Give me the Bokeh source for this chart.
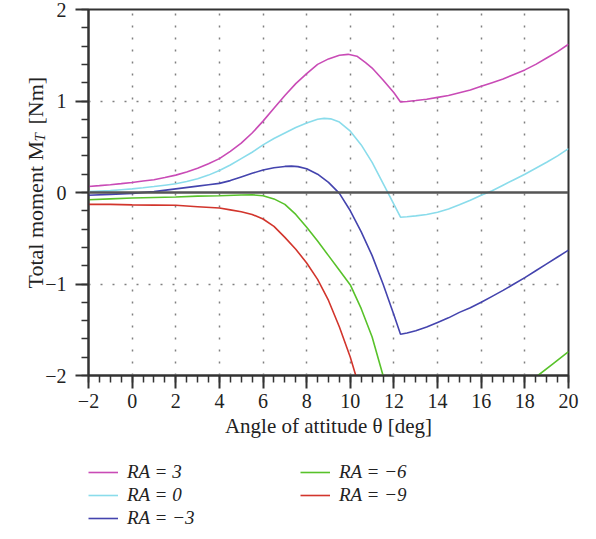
import math
from bokeh.plotting import figure
from bokeh.layouts import column
from bokeh.models import (Range1d, FixedTicker, Span, Legend, LegendItem, Label)
from bokeh.embed import file_html
from bokeh.resources import INLINE

# ---------------- data ----------------
ra3_x = [-2, -1.5, -1, -0.5, 0, 0.5, 1, 1.5, 2, 2.5, 3, 3.5, 4, 4.5, 5, 5.5, 6, 6.5, 7, 7.5, 8, 8.5, 9, 9.5,
         9.9, 10.3, 10.7, 11, 11.5, 12, 12.3, 12.6, 13, 13.5, 14, 14.5, 15, 15.5, 16, 16.5, 17, 17.5, 18,
         18.5, 19, 19.5, 20]
ra3_y = [0.066, 0.075, 0.085, 0.097, 0.11, 0.125, 0.14, 0.163, 0.19, 0.225, 0.265, 0.315, 0.37, 0.45, 0.54,
         0.65, 0.78, 0.92, 1.06, 1.19, 1.30, 1.40, 1.46, 1.50, 1.51, 1.49, 1.42, 1.36, 1.23, 1.09, 0.99,
         0.995, 1.005, 1.02, 1.04, 1.06, 1.09, 1.12, 1.16, 1.20, 1.24, 1.29, 1.34, 1.40, 1.47, 1.54, 1.62]

ra0_x = [-2, -1.5, -1, -0.5, 0, 0.5, 1, 1.5, 2, 2.5, 3, 3.5, 4, 4.5, 5, 5.5, 6, 6.5, 7, 7.5, 8, 8.5, 8.8,
         9.1, 9.5, 10, 10.5, 11, 11.5, 12, 12.3, 12.6, 13, 13.5, 14, 14.5, 15, 15.5, 16, 16.5, 17, 17.5,
         18, 18.5, 19, 19.5, 20]
ra0_y = [0.01, 0.015, 0.02, 0.03, 0.04, 0.052, 0.065, 0.08, 0.095, 0.12, 0.15, 0.19, 0.24, 0.30, 0.37,
         0.44, 0.52, 0.59, 0.65, 0.71, 0.76, 0.80, 0.81, 0.805, 0.77, 0.67, 0.52, 0.33, 0.10, -0.13, -0.27,
         -0.265, -0.255, -0.24, -0.215, -0.18, -0.135, -0.085, -0.03, 0.02, 0.08, 0.14, 0.20, 0.265, 0.33,
         0.40, 0.48]

ram3_x = [-2, -1, 0, 1, 2, 3, 3.5, 4, 4.5, 5, 5.5, 6, 6.5, 7, 7.3, 7.6, 8, 8.5, 9, 9.5, 10, 10.5, 11,
          11.5, 12, 12.3, 12.6, 13, 13.5, 14, 14.5, 15, 15.5, 16, 16.5, 17, 17.5, 18, 18.5, 19, 19.5, 20]
ram3_y = [-0.03, -0.02, -0.01, 0.01, 0.04, 0.07, 0.085, 0.10, 0.13, 0.17, 0.21, 0.245, 0.27, 0.285, 0.288,
          0.283, 0.26, 0.20, 0.11, -0.01, -0.20, -0.43, -0.69, -1.0, -1.34, -1.55, -1.535, -1.51, -1.47,
          -1.42, -1.37, -1.31, -1.26, -1.20, -1.135, -1.07, -1.0, -0.93, -0.855, -0.78, -0.705, -0.63]

ram6_x = [-2, -1, 0, 1, 2, 3, 4, 5, 5.5, 6, 6.5, 7, 7.5, 8, 8.5, 9, 9.5, 10, 10.5, 11, 11.5,
          float("nan"), 18.6, 19.3, 20]
ram6_y = [-0.08, -0.07, -0.06, -0.055, -0.05, -0.04, -0.035, -0.028, -0.025, -0.035, -0.07, -0.13, -0.24,
          -0.38, -0.53, -0.69, -0.85, -1.01, -1.27, -1.58, -2.0,
          float("nan"), -2.0, -1.87, -1.74]

ram9_x = [-2, -1, 0, 1, 2, 3, 4, 4.5, 5, 5.5, 6, 6.5, 7, 7.5, 8, 8.5, 9, 9.5, 10, 10.25]
ram9_y = [-0.13, -0.13, -0.135, -0.138, -0.14, -0.155, -0.17, -0.19, -0.21, -0.24, -0.29, -0.37, -0.49,
          -0.62, -0.77, -0.95, -1.18, -1.47, -1.80, -2.0]

series_labels = ["RA = 3", "RA = 0", "RA = \u22123", "RA = \u22126", "RA = \u22129"]
series_colors = ["#C94BB6", "#8ADCEB", "#4444AE", "#58C22A", "#D2352C"]

x_ticks = [-2, 0, 2, 4, 6, 8, 10, 12, 14, 16, 18, 20]
x_tick_labels = ["\u22122", "0", "2", "4", "6", "8", "10", "12", "14", "16", "18", "20"]
x_minor = [-2 + 0.5 * i for i in range(45)]
y_ticks = [-2, -1, 0, 1, 2]
y_tick_labels = ["\u22122", "\u22121", "0", "1", "2"]
y_minor = [-2 + 0.2 * i for i in range(21)]
grid_x = [0, 2, 4, 6, 8, 10, 12, 14, 16, 18]
grid_y = [-1, 1]

FONT = "Liberation Serif"
INK = "#222222"
AX = "#333333"

p = figure(frame_width=480, frame_height=366,
           x_range=Range1d(-2, 20), y_range=Range1d(-2, 2),
           output_backend="svg", toolbar_location=None,
           min_border_left=88, min_border_top=9, min_border_right=28, min_border_bottom=0,
           background_fill_color="white", border_fill_color="white")

p.outline_line_color = AX
p.outline_line_width = 2

# grid
p.xgrid.ticker = FixedTicker(ticks=grid_x)
p.ygrid.ticker = FixedTicker(ticks=grid_y)
for g in (p.xgrid, p.ygrid):
    g.grid_line_color = "#808080"
    g.grid_line_width = 1.5
    g.grid_line_dash = "2 10"

# axes
p.xaxis.ticker = FixedTicker(ticks=x_ticks, minor_ticks=x_minor)
p.yaxis.ticker = FixedTicker(ticks=y_ticks, minor_ticks=y_minor)
p.xaxis.major_label_overrides = dict(zip(x_ticks, x_tick_labels))
p.yaxis.major_label_overrides = dict(zip(y_ticks, y_tick_labels))
for ax in (p.xaxis, p.yaxis):
    ax.axis_line_color = AX
    ax.axis_line_width = 2
    ax.major_tick_line_color = AX
    ax.major_tick_line_width = 2
    ax.minor_tick_line_color = AX
    ax.minor_tick_line_width = 1.5
    ax.major_tick_out = 13
    ax.major_tick_in = 0
    ax.minor_tick_out = 7
    ax.minor_tick_in = 0
    ax.major_label_text_font = FONT
    ax.major_label_text_font_size = "20px"
    ax.major_label_text_color = INK
    ax.axis_label_text_font = FONT
    ax.axis_label_text_font_size = "21px"
    ax.axis_label_text_font_style = "normal"
    ax.axis_label_text_color = INK
p.xaxis.major_label_standoff = 5
p.yaxis.major_label_standoff = 9
p.xaxis.axis_label = "Angle of attitude \u03b8 [deg]"
p.xaxis.axis_label_standoff = 3

# zero line
p.add_layout(Span(location=0, dimension="width", line_color="#555555", line_width=2.5))

# y axis label built from pieces (subscript T), drawn in canvas px and spread over
# side panels that have spare room, so that the frame keeps its place.
ylab_parts = [("Total moment M", "normal", "22px", 35, 288, "left"),
              ("T", "italic", "15px", 39, 141, "left"),
              ("[Nm]", "normal", "22px", 35, 124, "right")]
for txt, style, size, lx, ly, side in ylab_parts:
    p.add_layout(Label(x=lx, y=ly, x_units="canvas", y_units="canvas", text=txt, angle=math.pi / 2,
                       text_font=FONT, text_font_style=style, text_font_size=size, text_color=INK,
                       text_align="left", text_baseline="alphabetic"), side)

xs = [ra3_x, ra0_x, ram3_x, ram6_x, ram9_x]
ys = [ra3_y, ra0_y, ram3_y, ram6_y, ram9_y]
for x, y, col in zip(xs, ys, series_colors):
    p.line(x, y, line_color=col, line_width=1.6)

# ---- legend strip: a second, axis-less figure directly below the chart ----
# (its ranges lie away from the data, so only the legend samples show)
LEG_H = 96
q = figure(width=596, height=LEG_H, x_range=Range1d(100, 101), y_range=Range1d(100, 101),
           output_backend="svg", toolbar_location=None,
           x_axis_location=None, y_axis_location=None,
           min_border=0, min_border_left=0, min_border_right=0, min_border_top=0, min_border_bottom=0,
           background_fill_color="white", border_fill_color="white")
q.outline_line_color = None
q.xgrid.visible = False
q.ygrid.visible = False
items = []
for x, y, lab, col in zip(xs, ys, series_labels, series_colors):
    r = q.line(x, y, line_color=col, line_width=1.6)
    items.append(LegendItem(label=lab, renderers=[r]))

legend = Legend(items=items, location=(0, 7), orientation="vertical", nrows=3,
                background_fill_alpha=0, border_line_alpha=0, padding=0, margin=0,
                spacing=1, glyph_width=30, glyph_height=20, label_standoff=9, label_width=172,
                label_text_font=FONT, label_text_font_size="19px", label_text_font_style="italic",
                label_text_color=INK)
q.add_layout(legend, "center")

layout = column(p, q, spacing=0)
open("out.html", "w").write(file_html(layout, INLINE))
